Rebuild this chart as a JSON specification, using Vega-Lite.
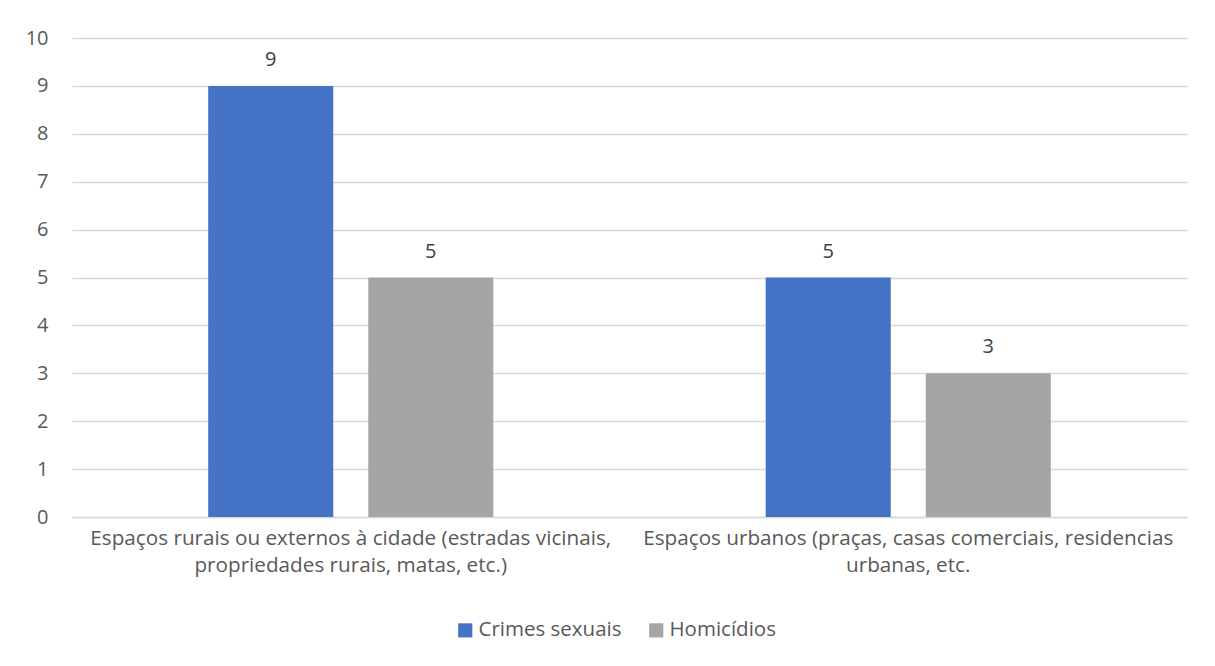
{
  "$schema": "https://vega.github.io/schema/vega-lite/v6.json",
  "width": 1115,
  "height": 479,
  "autosize": {"type": "none"},
  "padding": {"left": 72, "top": 38, "right": 28, "bottom": 149},
  "background": "white",
  "data": {
    "values": [
      {"local": "Espaços rurais ou externos à cidade (estradas vicinais,|propriedades rurais, matas, etc.)", "tipo": "Crimes sexuais", "casos": 9},
      {"local": "Espaços rurais ou externos à cidade (estradas vicinais,|propriedades rurais, matas, etc.)", "tipo": "Homicídios", "casos": 5},
      {"local": "Espaços urbanos (praças, casas comerciais, residencias|urbanas, etc.", "tipo": "Crimes sexuais", "casos": 5},
      {"local": "Espaços urbanos (praças, casas comerciais, residencias|urbanas, etc.", "tipo": "Homicídios", "casos": 3}
    ]
  },
  "encoding": {
    "x": {
      "field": "local",
      "type": "nominal",
      "sort": null,
      "scale": {"paddingInner": 0, "paddingOuter": 0},
      "axis": {
        "title": null,
        "labelAngle": 0,
        "labelExpr": "split(datum.label, '|')",
        "labelFont": "Open Sans",
        "labelFontSize": 20.7,
        "labelColor": "#595959",
        "labelLineHeight": 27,
        "labelPadding": 11,
        "labelLimit": 0,
        "labelOverlap": false,
        "ticks": false,
        "domainColor": "#d9d9d9",
        "domainWidth": 1.3
      }
    },
    "xOffset": {
      "field": "tipo",
      "type": "nominal",
      "scale": {"paddingInner": 0.21875, "paddingOuter": 0.851}
    },
    "y": {
      "field": "casos",
      "type": "quantitative",
      "scale": {"domain": [0, 10]},
      "axis": {
        "title": null,
        "values": [0, 1, 2, 3, 4, 5, 6, 7, 8, 9, 10],
        "labelFont": "Open Sans",
        "labelFontSize": 20,
        "labelColor": "#595959",
        "labelPadding": 24,
        "labelOverlap": false,
        "ticks": false,
        "domain": false,
        "gridColor": "#d9d9d9",
        "gridWidth": 1.3
      }
    }
  },
  "layer": [
    {
      "mark": {"type": "bar"},
      "encoding": {
        "color": {
          "field": "tipo",
          "type": "nominal",
          "scale": {"domain": ["Crimes sexuais", "Homicídios"], "range": ["#4472C4", "#A5A5A5"]},
          "legend": {
            "title": null,
            "orient": "none",
            "direction": "horizontal",
            "legendX": 383,
            "legendY": 582,
            "symbolType": "square",
            "symbolSize": 200,
            "symbolStrokeWidth": 0,
            "symbolOpacity": 1,
            "labelFont": "Open Sans",
            "labelFontSize": 20.5,
            "labelColor": "#595959",
            "labelOffset": 3,
            "columnPadding": 24
          }
        }
      }
    },
    {
      "mark": {"type": "text", "baseline": "bottom", "dy": -16, "font": "Open Sans", "fontSize": 20, "color": "#404040"},
      "encoding": {
        "text": {"field": "casos", "type": "quantitative"}
      }
    }
  ],
  "config": {
    "view": {"stroke": null}
  }
}
